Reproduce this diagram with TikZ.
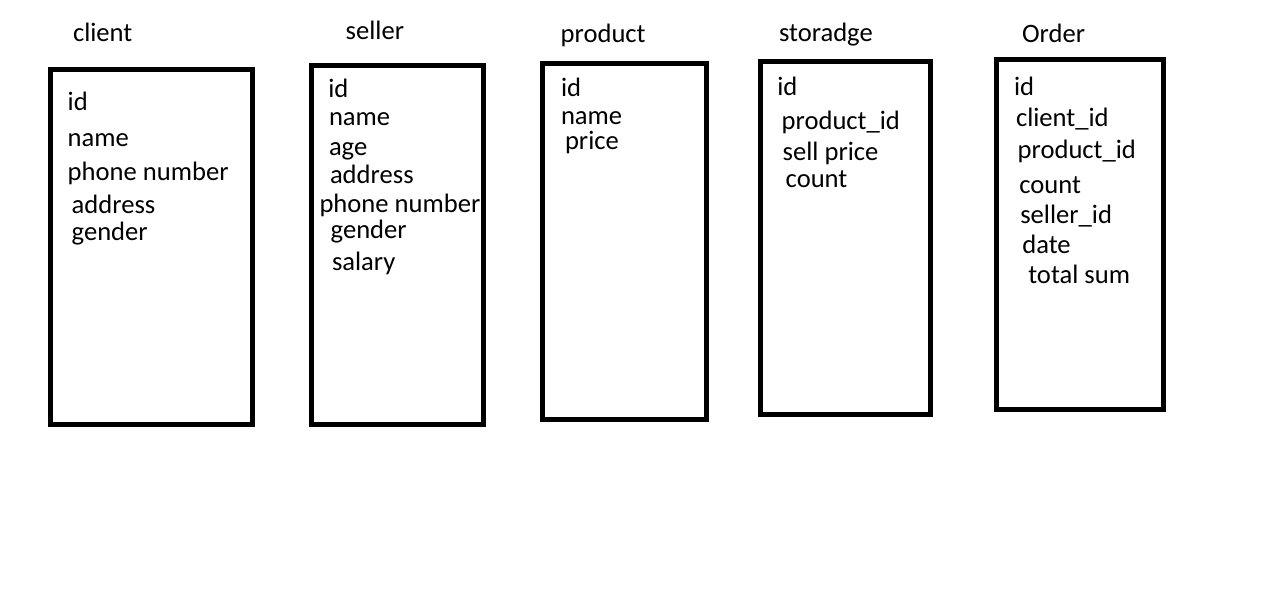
\documentclass[tikz,border=0pt]{standalone}
\usepackage{fontspec}
\setmainfont{Carlito}
\begin{document}
\begin{tikzpicture}[x=1pt,y=-1pt,
  tablebox/.style={draw=black,line width=5pt},
  fieldtext/.style={anchor=base west,inner sep=0pt,outer sep=0pt,font=\fontsize{26.6}{30}\selectfont},
  titletext/.style={anchor=base west,inner sep=0pt,outer sep=0pt,font=\fontsize{26.6}{30}\selectfont}]
\useasboundingbox[fill=white] (0,0) rectangle (1284,597);
% boxes
\draw[tablebox] (50,69.2) rectangle (252.5,424.5);
\draw[tablebox] (311.5,65.8) rectangle (483.8,424.5);
\draw[tablebox] (542.5,63.5) rectangle (706.5,419.3);
\draw[tablebox] (760.8,61.5) rectangle (930.8,414.2);
\draw[tablebox] (996.8,59.8) rectangle (1163.5,409.2);
% titles
\node[titletext] (tclient) at (73,41.7) {client};
\node[titletext] (tseller) at (345.7,39.3) {seller};
\node[titletext] (tproduct) at (560.7,42.3) {product};
\node[titletext] (tstoradge) at (779,41.7) {storadge};
\node[titletext] (torder) at (1022,42.3) {Order};
% client
\node[fieldtext] (c1) at (67.7,110.7) {id};
\node[fieldtext] (c2) at (67.7,146) {name};
\node[fieldtext] (c3) at (67.7,180.7) {phone number};
\node[fieldtext] (c4) at (71.7,213) {address};
\node[fieldtext] (c5) at (71.7,240) {gender};
% seller
\node[fieldtext] (s1) at (328.3,97.3) {id};
\node[fieldtext] (s2) at (329,125) {name};
\node[fieldtext] (s3) at (329,155) {age};
\node[fieldtext] (s4) at (330,183.3) {address};
\node[fieldtext] (s5) at (319.5,212.3) {phone number};
\node[fieldtext] (s6) at (330.7,238.3) {gender};
\node[fieldtext] (s7) at (332,270) {salary};
% product
\node[fieldtext] (p1) at (561,96) {id};
\node[fieldtext] (p2) at (561,124.3) {name};
\node[fieldtext] (p3) at (565,149.3) {price};
% storadge
\node[fieldtext] (st1) at (777.3,95) {id};
\node[fieldtext] (st2) at (781.7,129.3) {product\_id};
\node[fieldtext] (st3) at (782.7,160) {sell price};
\node[fieldtext] (st4) at (785.7,187.3) {count};
% order
\node[fieldtext] (o1) at (1014,95) {id};
\node[fieldtext] (o2) at (1016,126.7) {client\_id};
\node[fieldtext] (o3) at (1017.7,158.3) {product\_id};
\node[fieldtext] (o4) at (1019.3,193.3) {count};
\node[fieldtext] (o5) at (1020.3,223.3) {seller\_id};
\node[fieldtext] (o6) at (1022.3,253.3) {date};
\node[fieldtext] (o7) at (1028.3,283.3) {total sum};
\end{tikzpicture}
\end{document}
